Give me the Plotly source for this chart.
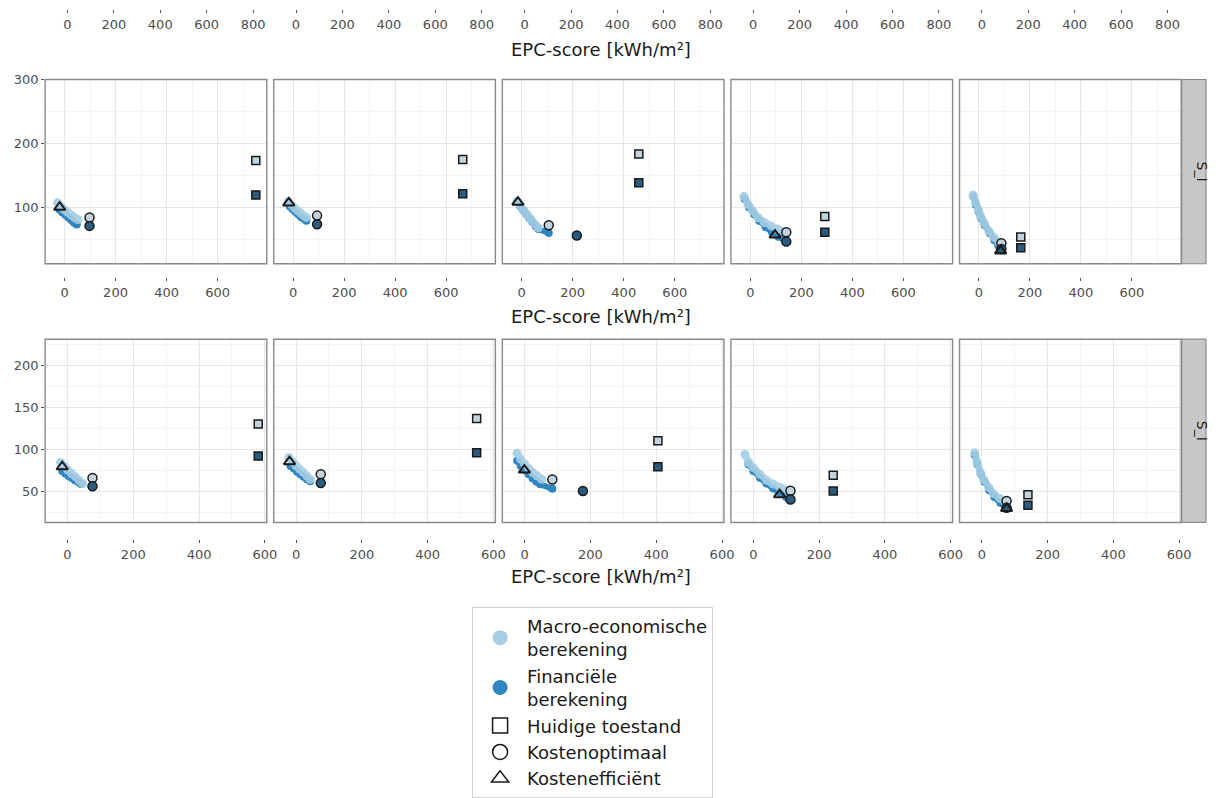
import plotly.graph_objects as go

# ---------------- data (10 panels: row 1 = panels 0..4, row 2 = panels 5..9) ----------------
MACRO_X = [
    [-27, -14, 0, 13, 26, 39, 52],
    [-19, -7, 5, 17, 29, 41, 52],
    [-19, -6, 8, 22, 36, 50, 65],
    [-25, -9, 10, 29, 55, 81, 107, 133],
    [-23, -13, -3, 6, 19, 39, 58, 78, 88],
    [-21, -10, 1, 12, 24, 35, 46],
    [-22, -11, 0, 11, 22, 33, 43],
    [-23, -12, 0, 12, 24, 38, 52],
    [-25, -15, 0, 20, 40, 60, 80, 105],
    [-22, -15, -5, 5, 20, 35, 55, 75],
]
MACRO_Y = [
    [108, 102, 97, 93, 89, 85, 82],
    [110, 105, 100, 96, 92, 88, 85],
    [110, 103, 96, 89, 82, 75, 69],
    [118, 105, 95, 85, 77, 72, 67, 63],
    [120, 108, 97, 87, 77, 64, 54, 46, 42],
    [84, 80, 75, 71, 67, 63, 59],
    [90, 85, 80, 76, 72, 68, 64],
    [95, 88, 82, 77, 72, 68, 64],
    [93.6, 84, 78, 70, 63, 58.4, 54.7, 50.8],
    [95.6, 84, 72, 64, 54.7, 47, 41, 35],
]
FIN_X = [
    [-19, -8, 4, 15, 26, 37, 48],
    [-13, -2, 9, 20, 31, 42, 52],
    [-6, 6, 18, 30, 42, 54, 65, 106],
    [-22, -5, 15, 35, 60, 85, 110, 141],
    [-22, -12, -1, 9, 23, 42, 60, 76, 85],
    [-16, -7, 3, 12, 22, 32, 41],
    [-17, -7, 3, 13, 23, 33, 43],
    [-23, -12, 0, 12, 24, 36, 47, 84],
    [-15, 0, 20, 40, 60, 80, 100, 113],
    [-22, -14, -3, 8, 22, 38, 56, 73],
]
FIN_Y = [
    [97, 93, 89, 85, 81, 77, 74],
    [102, 98, 94, 90, 86, 83, 80],
    [102, 96, 90, 84, 78, 72, 67, 61],
    [114, 101, 90, 80, 70, 62, 55, 48],
    [118, 105, 94, 84, 73, 61, 50, 41, 35],
    [74, 71, 68, 66, 63, 61, 58.5],
    [80, 77, 73, 70, 67, 64, 61.7],
    [86, 80, 75, 70, 65, 61, 58, 52.7],
    [82, 74, 66, 59, 53, 48, 43, 40],
    [93, 82, 70, 61, 51, 43, 36, 30],
]
# Huidige toestand (current state)
CUR_X = [750, 665, 459, 292, 164, 580, 549, 405, 243, 140]
CUR_MACRO_Y = [174, 175.5, 184, 86.7, 54.5, 130, 136.5, 110, 69, 45.7]
CUR_FIN_Y = [120, 122, 139, 62, 38, 91.7, 95.6, 79, 50, 33]
# Kostenoptimaal (cost optimal)
OPT_MACRO_X = [98, 94, 106, 141, 88, 76, 75, 84, 113, 75]
OPT_MACRO_Y = [85, 88, 73, 62, 45, 65.6, 70, 63.7, 50.4, 38.3]
OPT_FIN_X = [98, 94, 216, 141, 88, 76, 75, 177, 113, 75]
OPT_FIN_Y = [72, 74.5, 57, 47.5, 36, 55.8, 59.7, 50, 40, 30]
# Kostenefficiënt (cost efficient)
EFF_X = [-19, -17, -15, 97, 85, -16, -20, -1, 80, 75]
EFF_Y = [101, 107.7, 109, 57.6, 33, 79, 85, 75, 45.7, 29.3]

ROW_XRANGE = [[-76, 793], [-68, 606]]
ROW_YRANGE = [[13, 300], [12.6, 231]]
ROW_YDTICK = [100, 50]
TOP_XRANGE = [-96, 859]
STRIP_LABEL = "S_I"
X_TITLE = "EPC-score [kWh/m²]"

LEGEND_NAMES = ["Macro-economische<br>berekening", "Financiële<br>berekening",
                "Huidige toestand", "Kostenoptimaal", "Kostenefficiënt"]

# ---------------- styling ----------------
W, H = 1216, 798
LIGHT = "#a6cee3"
DARK = "#2f86c0"
LIGHT_SPEC = "#c3d3de"
DARK_SPEC = "#2b5b7e"
EDGE = "#1a1a1a"
FONT = "DejaVu Sans"
COL_LEFT = [45.5, 276, 506.5, 737, 967.5]
PANEL_W = 223.5
ROW_TOP = [74, 339]
ROW_BOT = [262, 526]
ROW_XAXIS_POS = [276, 543]   # pixel row of the detached x-axis ticks
TITLE_Y = [43, 316, 581]


def fx(p):
    return p / W


def fy(p):
    return 1 - p / H


def axid(letter, n):
    return letter if n == 1 else f"{letter}{n}"


fig = go.Figure()
layout = {}
shapes = []

for k in range(10):
    r, c = divmod(k, 5)
    n = k + 1
    xa, ya = axid("x", n), axid("y", n)
    fig.add_trace(go.Scatter(x=FIN_X[k], y=FIN_Y[k], mode="lines+markers", xaxis=xa, yaxis=ya,
                             line=dict(color=DARK, width=6), marker=dict(color=DARK, size=8),
                             showlegend=False, hoverinfo="skip"))
    fig.add_trace(go.Scatter(x=MACRO_X[k], y=MACRO_Y[k], mode="lines+markers", xaxis=xa, yaxis=ya,
                             line=dict(color=LIGHT, width=7), marker=dict(color=LIGHT, size=9),
                             opacity=0.9, showlegend=False, hoverinfo="skip"))
    fig.add_trace(go.Scatter(x=[CUR_X[k], CUR_X[k]], y=[CUR_MACRO_Y[k], CUR_FIN_Y[k]], mode="markers",
                             xaxis=xa, yaxis=ya,
                             marker=dict(symbol="square", size=8, color=[LIGHT_SPEC, DARK_SPEC],
                                         line=dict(color=EDGE, width=1.5)),
                             showlegend=False, hoverinfo="skip"))
    fig.add_trace(go.Scatter(x=[OPT_MACRO_X[k], OPT_FIN_X[k]], y=[OPT_MACRO_Y[k], OPT_FIN_Y[k]],
                             mode="markers", xaxis=xa, yaxis=ya,
                             marker=dict(symbol="circle", size=9, color=[LIGHT_SPEC, DARK_SPEC],
                                         line=dict(color=EDGE, width=1.5)),
                             showlegend=False, hoverinfo="skip"))
    fig.add_trace(go.Scatter(x=[EFF_X[k]], y=[EFF_Y[k]], mode="markers", xaxis=xa, yaxis=ya,
                             marker=dict(symbol="triangle-up-open", size=10, color=EDGE,
                                         line=dict(color=EDGE, width=2)),
                             showlegend=False, hoverinfo="skip"))

    left = COL_LEFT[c]
    layout[f"xaxis{n}"] = dict(
        domain=[fx(left), fx(left + PANEL_W)], anchor="free", position=fy(ROW_XAXIS_POS[r]),
        range=ROW_XRANGE[r],
        tick0=0, dtick=200, showgrid=True, gridcolor="#e6e6e6", gridwidth=1,
        minor=dict(dtick=100, tick0=0, showgrid=True, gridcolor="#f4f4f4", gridwidth=0.8),
        showline=False, ticks="outside", ticklen=3, tickcolor="#555555",
        tickfont=dict(size=13, color="#4d4d4d", family=FONT), zeroline=False)
    layout[f"yaxis{n}"] = dict(
        domain=[fy(ROW_BOT[r]), fy(ROW_TOP[r])], anchor=xa, range=ROW_YRANGE[r],
        tick0=0, dtick=ROW_YDTICK[r], showgrid=True, gridcolor="#e6e6e6", gridwidth=1,
        minor=dict(dtick=ROW_YDTICK[r] / 2, tick0=0, showgrid=True, gridcolor="#f4f4f4", gridwidth=0.8),
        showline=False,
        ticks="outside" if c == 0 else "", ticklen=3, tickcolor="#555555",
        showticklabels=(c == 0),
        tickfont=dict(size=13, color="#4d4d4d", family=FONT), zeroline=False)
    # panel border
    shapes.append(dict(type="rect", xref=f"{xa} domain", yref=f"{ya} domain", x0=0, x1=1, y0=0, y1=1,
                       line=dict(color="#8a8a8a", width=1.4), fillcolor="rgba(0,0,0,0)", layer="above"))

# top (cut-off) row of x tick labels
layout["yaxis11"] = dict(domain=[fy(2), 1], range=[0, 1], visible=False)
for c in range(5):
    n = 11 + c
    fig.add_trace(go.Scatter(x=[], y=[], xaxis=f"x{n}", yaxis="y11", showlegend=False, hoverinfo="skip"))
    left = COL_LEFT[c]
    layout[f"xaxis{n}"] = dict(
        domain=[fx(left), fx(left + PANEL_W)], anchor="y11", range=TOP_XRANGE,
        tick0=0, dtick=200, showgrid=False, showline=False, zeroline=False,
        ticks="outside", ticklen=3, tickcolor="#555555",
        tickfont=dict(size=13, color="#4d4d4d", family=FONT))

# legend-only traces
leg_specs = [
    dict(symbol="circle", size=15, color=LIGHT),
    dict(symbol="circle", size=15, color=DARK),
    dict(symbol="square-open", size=15, color=EDGE, line=dict(color=EDGE, width=1.5)),
    dict(symbol="circle-open", size=15, color=EDGE, line=dict(color=EDGE, width=1.5)),
    dict(symbol="triangle-up-open", size=15, color=EDGE, line=dict(color=EDGE, width=1.5)),
]
for name, spec in zip(LEGEND_NAMES, leg_specs):
    fig.add_trace(go.Scatter(x=[None], y=[None], mode="markers", name=name, marker=spec,
                             xaxis="x", yaxis="y", showlegend=True))

annotations = []
for ypx in TITLE_Y:
    annotations.append(dict(text=X_TITLE, x=fx(606), y=fy(ypx), xref="paper", yref="paper",
                            xanchor="center", yanchor="middle", showarrow=False,
                            font=dict(size=18, color="#1a1a1a", family=FONT)))
for r in range(2):
    shapes.append(dict(type="rect", xref="paper", yref="paper", x0=fx(1191.5), x1=fx(1216),
                       y0=fy(ROW_BOT[r]), y1=fy(ROW_TOP[r]), fillcolor="#c8c8c8",
                       line=dict(color="#8a8a8a", width=1.2), layer="below"))
    annotations.append(dict(text=STRIP_LABEL, x=fx(1212), y=fy((ROW_TOP[r] + ROW_BOT[r]) / 2),
                            xref="paper", yref="paper", textangle=90, showarrow=False,
                            xanchor="center", yanchor="middle",
                            font=dict(size=14, color="#1a1a1a", family=FONT)))

fig.update_layout(
    width=W, height=H, margin=dict(l=0, r=0, t=0, b=0),
    paper_bgcolor="white", plot_bgcolor="white",
    font=dict(family=FONT, color="#1a1a1a"),
    annotations=annotations, shapes=shapes,
    legend=dict(x=fx(476), y=fy(612), xanchor="left", yanchor="top",
                bordercolor="#d0d0d0", borderwidth=1, bgcolor="white",
                font=dict(size=18, color="#1a1a1a", family=FONT), itemwidth=44),
    **layout,
)

fig.write_html("out.html")
